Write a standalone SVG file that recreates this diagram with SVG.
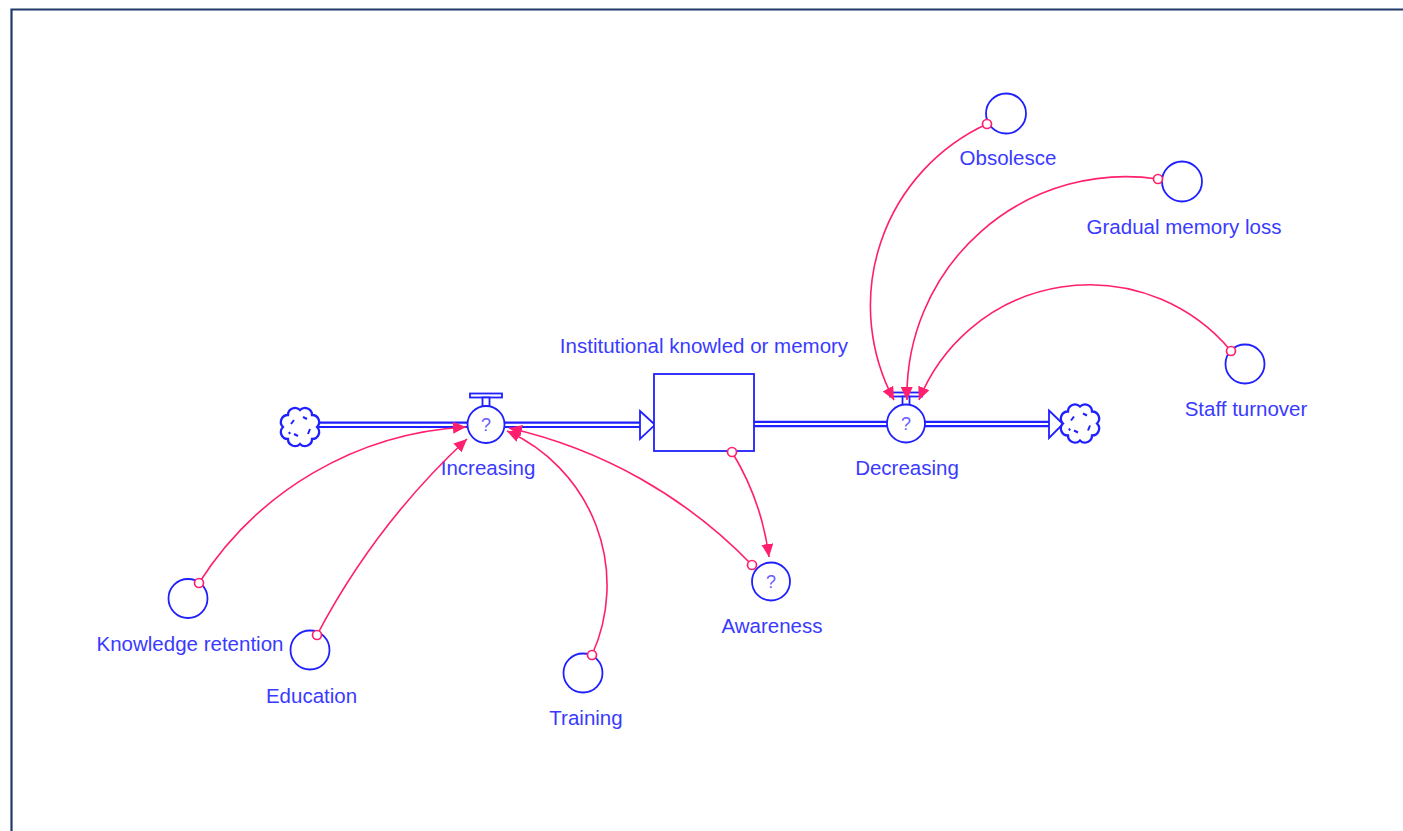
<svg xmlns="http://www.w3.org/2000/svg" width="1403" height="831" viewBox="0 0 1403 831">
<style>
.bg{fill:#ffffff}
.frame{stroke:#1f3a68;stroke-width:2.2;fill:none}
.shape{fill:#ffffff;stroke:#2020ff;stroke-width:1.8}
.cloudb{fill:#ffffff;stroke:#2020ff;stroke-width:2.3}
.pipe{stroke:#2020ff;stroke-width:6.5;fill:none}
.pipein{stroke:#ffffff;stroke-width:2.2;fill:none}
.lbl{font-family:"Liberation Sans",Arial,sans-serif;font-size:20.5px;fill:#3a3aff;text-anchor:middle}
.q{font-family:"Liberation Sans",Arial,sans-serif;font-size:18px;fill:#6a5cff;text-anchor:middle}
.link{fill:none;stroke:#ff1f6e;stroke-width:1.6;marker-end:url(#arr)}
.dot{fill:#ffffff;stroke:#ff1f6e;stroke-width:1.7}
.cl{fill:none;stroke:#2020ff;stroke-width:2}
</style>
<defs>
<marker id="arr" markerUnits="userSpaceOnUse" markerWidth="13" markerHeight="12" refX="13" refY="6" orient="auto">
<path d="M0,0 L13,6 L0,12 z" fill="#ff1f6e"/>
</marker>
<g id="cloud">
<path class="cloudb" d="M17,0 A7,7 0 0 1 12,12 A7,7 0 0 1 0,17 A7,7 0 0 1 -12,12 A7,7 0 0 1 -17,0 A7,7 0 0 1 -12,-12 A7,7 0 0 1 0,-17 A7,7 0 0 1 12,-12 A7,7 0 0 1 17,0 Z"/>
<path class="cl" d="M-9,-3 l3,-4 M3,-10 l4,2 M10,2 l-2,5 M-2,9 l-4,-2 M-11,5 l1,2"/>
</g>
<g id="valvetop">
<rect class="shape" x="-16" y="-31" width="32" height="4"/>
<rect class="shape" x="-3.5" y="-27" width="7" height="9"/>
</g>
</defs>
<rect class="bg" x="0" y="0" width="1403" height="831"/>
<path class="frame" d="M11.5,831 L11.5,9.5 L1403,9.5"/>

<g id="flows">
<line class="pipe" x1="316" y1="424.8" x2="468" y2="424.8"/>
<line class="pipein" x1="316" y1="424.8" x2="468" y2="424.8"/>
<line class="pipe" x1="504" y1="424.8" x2="641" y2="424.8"/>
<line class="pipein" x1="504" y1="424.8" x2="641" y2="424.8"/>
<polygon class="shape" points="640,411 655,424.8 640,439"/>
<line class="pipe" x1="754" y1="424" x2="888" y2="424"/>
<line class="pipein" x1="754" y1="424" x2="888" y2="424"/>
<line class="pipe" x1="924" y1="424" x2="1050" y2="424"/>
<line class="pipein" x1="924" y1="424" x2="1050" y2="424"/>
<polygon class="shape" points="1049,410.5 1063,424 1049,438"/>
</g>

<g id="source"><use href="#cloud" x="300" y="427"/></g>
<g id="sink"><use href="#cloud" x="1080" y="423.5"/></g>

<g id="stock">
<rect class="shape" x="654" y="374" width="100" height="77"/>
<text class="lbl" x="704" y="353">Institutional knowled or memory</text>
</g>

<g id="increasing">
<use href="#valvetop" x="486" y="424.5"/>
<circle class="shape" cx="486" cy="424.5" r="18.5"/>
<text class="q" x="486" y="431">?</text>
<text class="lbl" x="488" y="475">Increasing</text>
</g>

<g id="decreasing">
<use href="#valvetop" x="906" y="423.5"/>
<circle class="shape" cx="906" cy="423.5" r="19"/>
<text class="q" x="906" y="430">?</text>
<text class="lbl" x="907" y="475">Decreasing</text>
</g>

<g id="knowledge-retention">
<circle class="shape" cx="188" cy="598.5" r="19.5"/>
<text class="lbl" x="190" y="651">Knowledge retention</text>
</g>
<g id="education">
<circle class="shape" cx="310" cy="650" r="19.5"/>
<text class="lbl" x="311.5" y="702.5">Education</text>
</g>
<g id="training">
<circle class="shape" cx="583" cy="673" r="19.5"/>
<text class="lbl" x="586" y="725">Training</text>
</g>
<g id="awareness">
<circle class="shape" cx="771" cy="581.5" r="19"/>
<text class="q" x="771" y="588">?</text>
<text class="lbl" x="772" y="633">Awareness</text>
</g>
<g id="obsolesce">
<circle class="shape" cx="1006" cy="113.5" r="20"/>
<text class="lbl" x="1008" y="165">Obsolesce</text>
</g>
<g id="gradual-memory-loss">
<circle class="shape" cx="1182" cy="181.5" r="20"/>
<text class="lbl" x="1184" y="234">Gradual memory loss</text>
</g>
<g id="staff-turnover">
<circle class="shape" cx="1245" cy="364" r="19.5"/>
<text class="lbl" x="1246" y="416">Staff turnover</text>
</g>

<g id="connectors">
<path class="link" d="M199,583 A338,338 0 0 1 466,427"/>
<path class="link" d="M317,635 A735,735 0 0 1 467,439"/>
<path class="link" d="M592,655 A169,169 0 0 0 507,431"/>
<path class="link" d="M752,565 A487,487 0 0 0 509,428"/>
<path class="link" d="M732,452 A267,267 0 0 1 769,557"/>
<path class="link" d="M987,124 A200,200 0 0 0 894,400"/>
<path class="link" d="M1158,179 A219,219 0 0 0 907,400"/>
<path class="link" d="M1231,351 A184,184 0 0 0 919,400"/>
<circle class="dot" cx="199" cy="583" r="4.5"/>
<circle class="dot" cx="317" cy="635" r="4.5"/>
<circle class="dot" cx="592" cy="655" r="4.5"/>
<circle class="dot" cx="752" cy="565" r="4.5"/>
<circle class="dot" cx="732" cy="452" r="4.5"/>
<circle class="dot" cx="987" cy="124" r="4.5"/>
<circle class="dot" cx="1158" cy="179" r="4.5"/>
<circle class="dot" cx="1231" cy="351" r="4.5"/>
</g>
</svg>
